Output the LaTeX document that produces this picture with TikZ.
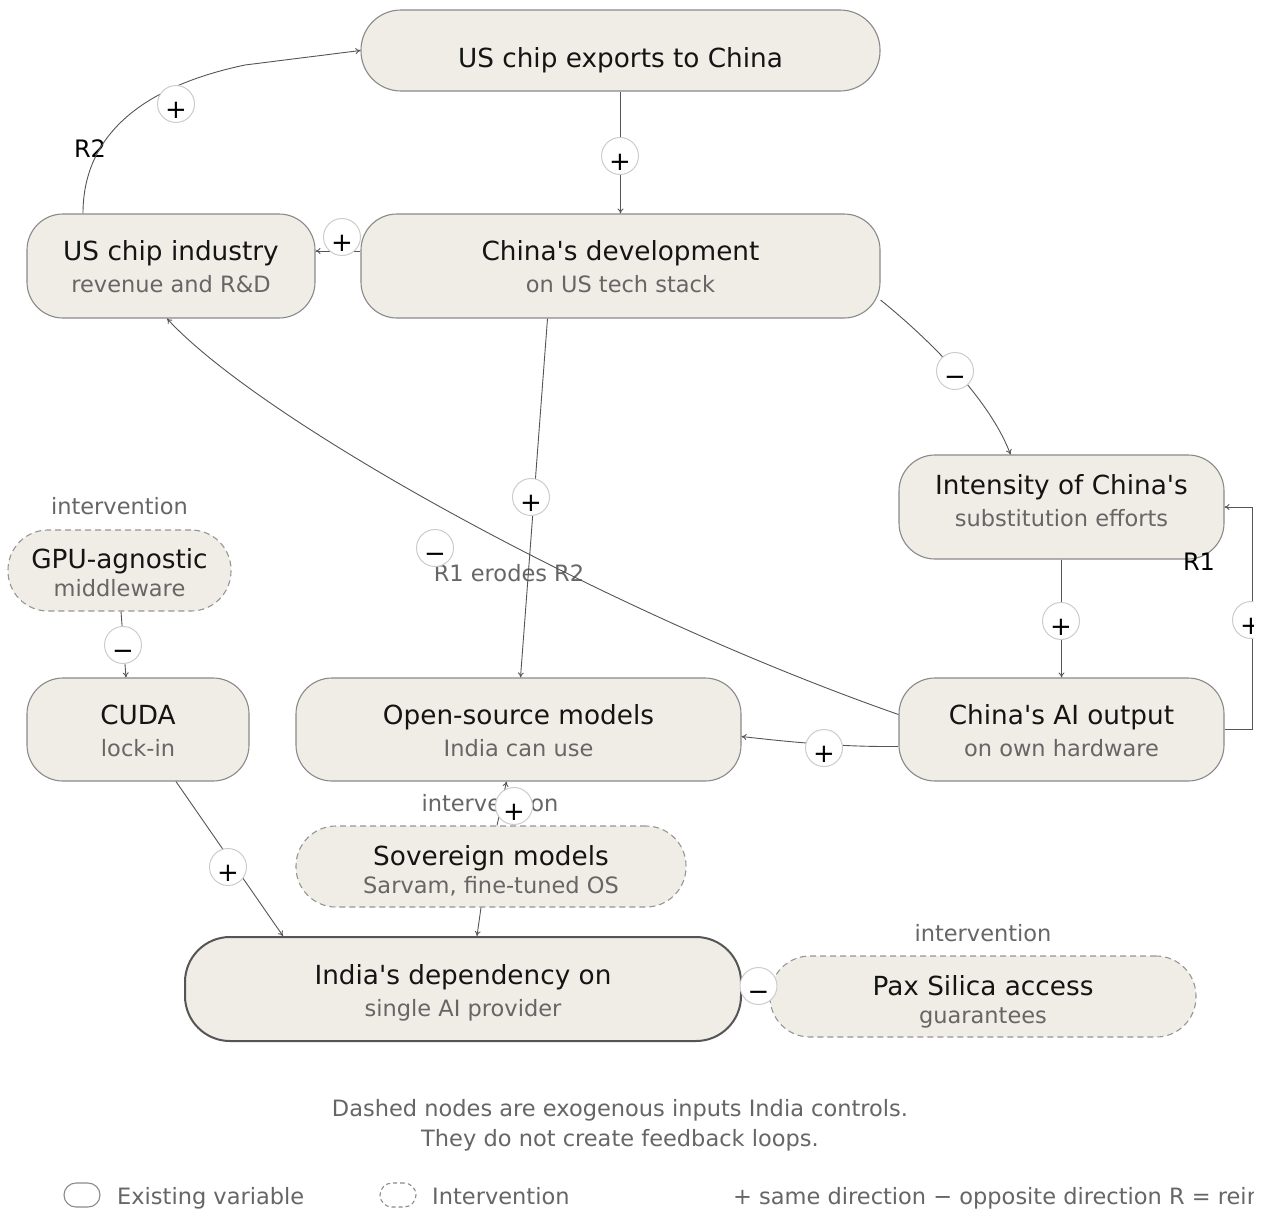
\documentclass[tikz,border=0pt]{standalone}
\usepackage{fontspec}
\setmainfont{DejaVu Sans}
\usetikzlibrary{arrows.meta,calc}
\definecolor{nfill}{HTML}{F0EDE6}
\definecolor{nline}{HTML}{8A8A8A}
\definecolor{dline}{HTML}{555555}
\definecolor{subc}{HTML}{666666}
\definecolor{edgec}{HTML}{555555}
\definecolor{signc}{HTML}{CCCCCC}
\newcommand{\apo}{\textquotesingle}
\tikzset{
  var/.style={draw=nline, fill=nfill, line width=1.1pt, rounded corners=36pt, inner sep=0pt},
  stadium/.style={var, rounded corners=40pt},
  interv/.style={stadium, dash pattern=on 6pt off 4pt, draw=nline!90},
  mainlbl/.style={font=\fontsize{26.3}{30}\selectfont, text=black!92, anchor=base, inner sep=0pt},
  sublbl/.style={font=\fontsize{22.5}{26}\selectfont, text=subc, anchor=base, inner sep=0pt},
  looplbl/.style={font=\fontsize{24}{28}\selectfont, text=black, anchor=base, inner sep=0pt},
  edge/.style={draw=edgec, line width=0.9pt, -{To[length=5pt,width=6pt]}},
  sign/.style={circle, draw=signc, fill=white, line width=1pt, minimum size=37pt, inner sep=0pt,
    text height=28pt, text depth=0pt, font=\fontsize{26}{30}\selectfont},
}
\begin{document}
\begin{tikzpicture}[x=1pt,y=-1pt]
\useasboundingbox[fill=white] (0,0) rectangle (1268,1210);
\begin{scope}
\clip (0,0) rectangle (1253.5,1210);
% ---------- nodes ----------
\node[stadium, minimum width=519pt, minimum height=81pt] (exports) at (620.5,50.5) {};
\node[var, minimum width=288pt, minimum height=104pt] (uschip) at (171,266) {};
\node[var, minimum width=519pt, minimum height=104pt] (chinadev) at (620.5,266) {};
\node[var, minimum width=325pt, minimum height=104pt] (intensity) at (1061.5,507) {};
\node[interv, minimum width=223pt, minimum height=81pt] (gpu) at (119.5,570.5) {};
\node[var, minimum width=222pt, minimum height=103pt] (cuda) at (138,729.5) {};
\node[var, minimum width=445pt, minimum height=103pt] (opensource) at (518.5,729.5) {};
\node[var, minimum width=325pt, minimum height=103pt] (aioutput) at (1061.5,729.5) {};
\node[interv, minimum width=390pt, minimum height=81pt] (sovereign) at (491,866.5) {};
\node[var, draw=dline, line width=2pt, rounded corners=45pt, minimum width=556pt, minimum height=104pt] (india) at (463,989) {};
\node[interv, minimum width=426pt, minimum height=81pt] (pax) at (983,996.5) {};
% ---------- node texts ----------
\node[mainlbl] (exportsT) at (620.5,67) {US chip exports to China};
\node[mainlbl] (uschipT) at (171,260) {US chip industry};
\node[sublbl] (uschipS) at (171,292) {revenue and R\&D};
\node[mainlbl] (chinadevT) at (620.5,260) {China\apo s development};
\node[sublbl] (chinadevS) at (620.5,292) {on US tech stack};
\node[mainlbl] (intensityT) at (1061.5,494) {Intensity of China\apo s};
\node[sublbl] (intensityS) at (1061.5,526) {substitution efforts};
\node[sublbl] (gpuI) at (119.5,514) {intervention};
\node[mainlbl] (gpuT) at (119.5,568) {GPU-agnostic};
\node[sublbl] (gpuS) at (119.5,596) {middleware};
\node[mainlbl] (cudaT) at (138,724) {CUDA};
\node[sublbl] (cudaS) at (138,756) {lock-in};
\node[mainlbl] (opensourceT) at (518.5,724) {Open-source models};
\node[sublbl] (opensourceS) at (518.5,756) {India can use};
\node[mainlbl] (aioutputT) at (1061.5,724) {China\apo s AI output};
\node[sublbl] (aioutputS) at (1061.5,756) {on own hardware};
\node[sublbl] (sovereignI) at (490,811) {intervention};
\node[mainlbl] (sovereignT) at (491,865) {Sovereign models};
\node[sublbl] (sovereignS) at (491,893) {Sarvam, fine-tuned OS};
\node[mainlbl] (indiaT) at (463,984) {India\apo s dependency on};
\node[sublbl] (indiaS) at (463,1016) {single AI provider};
\node[sublbl] (paxI) at (983,941) {intervention};
\node[mainlbl] (paxT) at (983,995) {Pax Silica access};
\node[sublbl] (paxS) at (983,1023) {guarantees};
% loop labels
\node[looplbl] (R2) at (90,157) {R2};
\node[looplbl] (R1) at (1199,570) {R1};
\node[sublbl] (erodes) at (509,581) {R1 erodes R2};
% ---------- edges ----------
\draw[edge] ([xshift=-88pt]uschip.north) .. controls (83,130) and (150,85) .. (245,65) -- (exports.west);
\draw[edge] (exports.south) -- (chinadev.north);
\draw[edge] ([yshift=15pt]chinadev.west) -- ([yshift=15pt]uschip.east);
\draw[edge] ([yshift=-34pt]chinadev.east) .. controls (930,340) and (990,400) .. ([xshift=-51pt]intensity.north);
\draw[edge] (intensity.south) -- (aioutput.north);
\draw[edge] (aioutput.east) -- ++(28,0) |- (intensity.east);
\draw[edge] ([yshift=15pt]aioutput.west) .. controls (600,610) and (260,420) .. ([xshift=-4pt]uschip.south);
\draw[edge] ([xshift=-73pt]chinadev.south) -- ([xshift=2pt]opensource.north);
\draw[edge] ([yshift=-17pt]aioutput.west) .. controls (840,747) and (790,742) .. ([yshift=-7pt]opensource.east);
\draw[edge] ([xshift=6pt]sovereign.north) -- ([xshift=-12pt]opensource.south);
\draw[edge] ([xshift=-10pt]sovereign.south) -- ([xshift=14pt]india.north);
\draw[edge] ([xshift=38pt]cuda.south) -- ([xshift=-180pt]india.north);
\draw[edge] ([xshift=1.5pt]gpu.south) -- ([xshift=-12pt]cuda.north);
\draw[edge] (pax.west) -- (india.east);
% ---------- polarity signs ----------
\node[sign] (s1) at (176,104) {+};
\node[sign] (s2) at (620,156) {+};
\node[sign] (s3) at (342,237) {+};
\node[sign] (s4) at (955,371) {−};
\node[sign] (s5) at (1061,621) {+};
\node[sign] (s6) at (1251,620) {+};
\node[sign] (s7) at (435,548) {−};
\node[sign] (s8) at (531,497) {+};
\node[sign] (s9) at (824,748) {+};
\node[sign] (s10) at (514,806) {+};
\node[sign] (s11) at (228,867) {+};
\node[sign] (s12) at (123,645) {−};
\node[sign] (s13) at (758.5,986) {−};
% ---------- footnote and legend ----------
\node[sublbl] (note1) at (620,1116) {Dashed nodes are exogenous inputs India controls.};
\node[sublbl] (note2) at (620,1146) {They do not create feedback loops.};
\node[draw=nline, line width=1.1pt, fill=white, rounded corners=12pt, minimum width=36pt, minimum height=24pt, inner sep=0pt] (legA) at (82,1195) {};
\node[sublbl, anchor=base west] (legAT) at (117,1204) {Existing variable};
\node[draw=nline, line width=1.1pt, dash pattern=on 4pt off 3pt, fill=white, rounded corners=12pt, minimum width=36pt, minimum height=24pt, inner sep=0pt] (legB) at (398,1195) {};
\node[sublbl, anchor=base west] (legBT) at (432,1204) {Intervention};
\node[sublbl, anchor=base west] (legCT) at (733,1204) {+ same direction − opposite direction R = reinforcing loop};
\end{scope}
\end{tikzpicture}
\end{document}
